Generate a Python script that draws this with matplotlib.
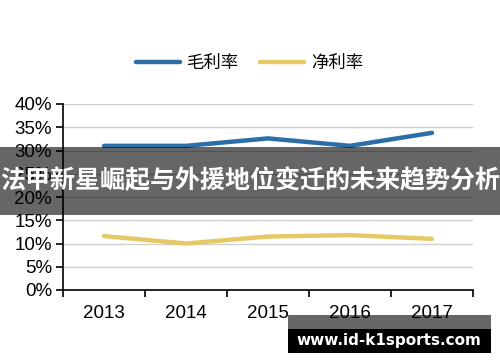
import matplotlib.pyplot as plt
import numpy as np
from matplotlib.patches import Rectangle

plt.rcParams['font.family'] = ['Liberation Sans', 'Noto Sans CJK SC', 'DejaVu Sans']

# --- data ---
years = ["2013", "2014", "2015", "2016", "2017"]
gross_margin = [0.310, 0.310, 0.326, 0.310, 0.338]
net_margin = [0.116, 0.100, 0.115, 0.118, 0.110]
yticks = [0, 0.05, 0.10, 0.15, 0.20, 0.25, 0.30, 0.35, 0.40]

fig = plt.figure(figsize=(5, 3.62), dpi=100)
ax = fig.add_axes([63 / 500, 1 - 290 / 362, 410 / 500, 186 / 362])

x = np.arange(len(years))
l1, = ax.plot(x, gross_margin, color="#2b6ea8", lw=3.2, solid_capstyle="round", label="毛利率")
l2, = ax.plot(x, net_margin, color="#e6c965", lw=3.2, solid_capstyle="round", label="净利率")

ax.set_xlim(-0.5, len(years) - 0.5)
ax.set_ylim(0, 0.40)
ax.set_yticks(yticks)
ax.set_yticklabels([f"{int(round(v * 100))}%" for v in yticks], fontsize=13.5)
ax.set_xticks(x)
ax.set_xticklabels(years, fontsize=13.5)
ax.tick_params(axis="x", length=0, pad=11)
ax.set_xticks(np.arange(-0.5, len(years)), minor=True)
ax.tick_params(axis="x", which="minor", length=5, width=1.2, color="black")
ax.tick_params(axis="y", length=5, width=1.2, pad=3)
ax.grid(axis="y", color="#d0d0d0", lw=1)
ax.set_axisbelow(True)
for s in ["top", "right"]:
    ax.spines[s].set_visible(False)
for s in ["left", "bottom"]:
    ax.spines[s].set_linewidth(1.2)

fig.legend(handles=[l1, l2], loc="center", bbox_to_anchor=(0.5, 1 - 63 / 362), ncol=2,
           frameon=False, handlelength=2.5, handletextpad=0.45, columnspacing=1.2,
           prop={"family": ["Noto Sans CJK SC"], "size": 12.5})

# --- overlay banner ---
fig.patches.append(Rectangle((0, 1 - 215 / 362), 1, 68 / 362, transform=fig.transFigure,
                             facecolor="black", alpha=0.6, zorder=10))
fig.text(0.5, 1 - 181 / 362, "法甲新星崛起与外援地位变迁的未来趋势分析", color="white",
         fontsize=18, fontweight="bold", ha="center", va="center",
         family=["Noto Sans CJK SC", "DejaVu Sans"], zorder=11)

# --- watermark ---
fig.patches.append(Rectangle((288 / 500, 1 - 329 / 362), 203 / 500, 14 / 362,
                             transform=fig.transFigure, facecolor="black", alpha=0.6, zorder=10))
fig.patches.append(Rectangle((288 / 500, 1 - 353 / 362), 203 / 500, 24 / 362,
                             transform=fig.transFigure, facecolor="black", zorder=10))
fig.text(389 / 500, 1 - 340 / 362, "www.id-k1sports.com", color="white", fontsize=11,
         fontweight="bold", ha="center", va="center", family=["DejaVu Sans"], zorder=11)

fig.savefig("out.png", dpi=100)
